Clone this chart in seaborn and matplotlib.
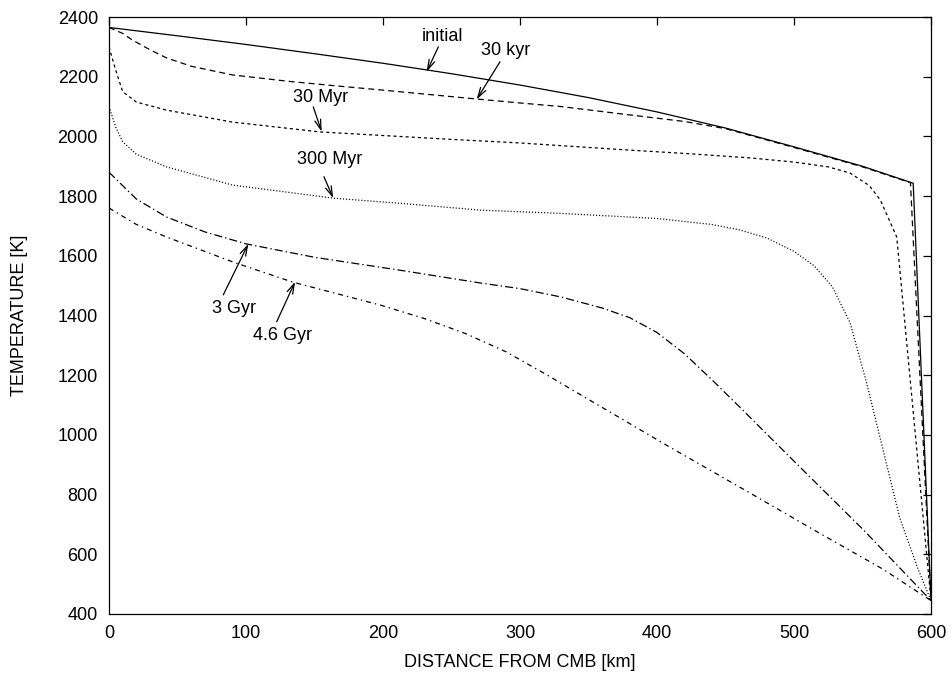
import matplotlib
matplotlib.use("Agg")
import matplotlib.pyplot as plt
import seaborn as sns
import pandas as pd

# ---------------- data ----------------
x_initial = [0, 50, 100, 150, 200, 250, 300, 350, 400, 450, 500, 550, 587, 600]
t_initial = [2365, 2337, 2308, 2277, 2245, 2210, 2172, 2130, 2082, 2028, 1965, 1900, 1843, 445]

x_30kyr = [0, 10, 17, 30, 42, 60, 90, 130, 164, 200, 269, 300, 330, 380, 420, 450, 500, 550, 585, 600]
t_30kyr = [2365, 2345, 2323, 2290, 2263, 2235, 2206, 2185, 2170, 2155, 2125, 2112, 2100, 2072, 2050, 2026, 1963, 1898, 1845, 445]

x_30myr = [0, 5, 10, 20, 42, 90, 154, 200, 250, 300, 380, 420, 468, 500, 525, 541, 555, 563, 575, 600]
t_30myr = [2300, 2220, 2150, 2115, 2088, 2048, 2015, 2003, 1990, 1978, 1954, 1943, 1928, 1914, 1898, 1877, 1835, 1787, 1663, 445]

x_300myr = [0, 5, 10, 20, 42, 90, 164, 212, 271, 330, 400, 440, 460, 480, 500, 515, 528, 541, 553, 565, 577, 590, 600]
t_300myr = [2100, 2030, 1982, 1940, 1898, 1837, 1793, 1776, 1753, 1742, 1725, 1705, 1687, 1660, 1615, 1565, 1496, 1375, 1174, 950, 725, 557, 445]

x_3gyr = [0, 20, 42, 70, 100, 150, 212, 271, 300, 330, 360, 380, 400, 420, 440, 460, 500, 550, 600]
t_3gyr = [1880, 1790, 1730, 1680, 1640, 1595, 1552, 1509, 1490, 1462, 1425, 1393, 1343, 1272, 1185, 1095, 912, 685, 445]

x_46gyr = [0, 20, 42, 90, 134, 198, 230, 260, 290, 320, 344, 409, 468, 517, 565, 600]
t_46gyr = [1760, 1705, 1663, 1580, 1512, 1435, 1390, 1340, 1278, 1200, 1135, 960, 805, 675, 550, 445]

labels = ["initial", "30 kyr", "30 Myr", "300 Myr", "3 Gyr", "4.6 Gyr"]

# ---------------- style ----------------
sns.set_theme(style="white")
plt.rcParams["font.family"] = ["Liberation Sans", "DejaVu Sans"]
plt.rcParams["lines.scale_dashes"] = False

fig = plt.figure(figsize=(9.53, 6.74), dpi=100)
ax = fig.add_axes([109 / 953, 60 / 674, 822 / 953, 597 / 674])

series = [
    (x_initial, t_initial, "-"),
    (x_30kyr, t_30kyr, (0, (4.3, 2.9))),
    (x_30myr, t_30myr, (0, (2.2, 2.2))),
    (x_300myr, t_300myr, (0, (0.8, 1.4))),
    (x_3gyr, t_3gyr, (0, (5.8, 2.2, 1.0, 2.2))),
    (x_46gyr, t_46gyr, (0, (3.6, 2.9, 1.0, 2.9))),
]

for (xs, ts, ls), lab in zip(series, labels):
    df = pd.DataFrame({"x": xs, "T": ts})
    sns.lineplot(data=df, x="x", y="T", ax=ax, color="black", linewidth=0.9,
                 linestyle=ls, estimator=None, sort=False, legend=False)

# annotations: text positions and arrow tail/head in data coords
text_pos = [(243.4, 2336), (289.6, 2287), (154.7, 2130), (161.3, 1921), (90.9, 1422), (126.3, 1333)]
arrow_tail = [(240.4, 2300), (285.4, 2250), (149.1, 2099), (156.9, 1865), (83.4, 1469), (122.4, 1379)]
arrow_head = [(231.9, 2217), (268.4, 2124), (155.2, 2016), (163.7, 1793), (101.7, 1640), (135.8, 1513)]

for lab, tp, tl, hd in zip(labels, text_pos, arrow_tail, arrow_head):
    ax.text(tp[0], tp[1], lab, ha="center", va="center", fontsize=13, color="black")
    ax.annotate("", xy=hd, xytext=tl,
                arrowprops=dict(arrowstyle="->,head_length=0.6,head_width=0.18",
                                lw=0.9, color="black", shrinkA=0, shrinkB=0))

ax.set_xlim(0, 600)
ax.set_ylim(400, 2400)
ax.set_xticks(range(0, 601, 100))
ax.set_yticks(range(400, 2401, 200))
ax.tick_params(direction="in", length=6, width=0.9, top=True, right=True,
               labelsize=13, pad=8, colors="black")
for s in ax.spines.values():
    s.set_visible(True)
    s.set_color("black")
    s.set_linewidth(0.9)

ax.set_xlabel("DISTANCE FROM CMB [km]", fontsize=13, color="black")
ax.set_ylabel("TEMPERATURE [K]", fontsize=13, color="black")
ax.xaxis.set_label_coords(0.5, -0.067)
ax.yaxis.set_label_coords(-0.0985, 0.5)
ax.grid(False)

fig.savefig("out.png", dpi=100)
